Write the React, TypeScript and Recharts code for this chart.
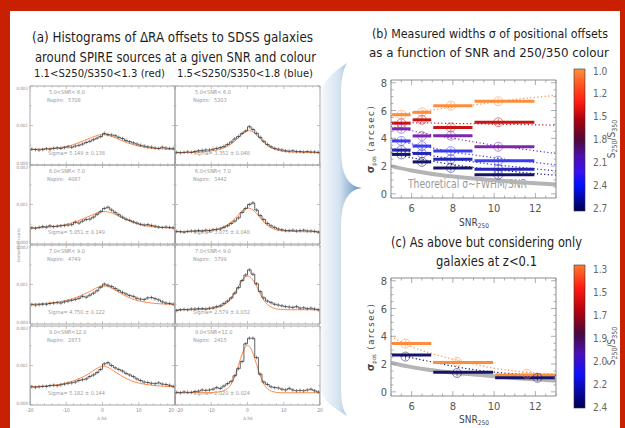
import React from 'react';
import { ComposedChart, Line, Scatter, XAxis, YAxis, ReferenceLine } from 'recharts';

const SANS = '"Liberation Sans Narrow","Arial Narrow","DejaVu Sans Condensed","Liberation Sans",sans-serif';

// ---------------- Panel (a) data ----------------
const binLefts = [-20, -19, -18, -17, -16, -15, -14, -13, -12, -11, -10, -9, -8, -7, -6, -5, -4, -3, -2, -1, 0, 1, 2, 3, 4, 5, 6, 7, 8, 9, 10, 11, 12, 13, 14, 15, 16, 17, 18, 19];
const modelX = [-20, -16, -12, -9, -7, -5, -4, -3, -2, -1, 0, 1, 2, 3, 4, 5, 7, 9, 12, 16, 20];
const histXTicks = [-20, -18, -16, -14, -12, -10, -8, -6, -4, -2, 0, 2, 4, 6, 8, 10, 12, 14, 16, 18, 20];
const histXMajor = [-20, -10, 0, 10, 20];
const histYTicks = [0, 0.5, 1, 1.5, 2];
const histYMajor = [0, 1, 2];

const snrLabels = ['5.0<SNR< 6.0', '6.0<SNR< 7.0', '7.0<SNR< 9.0', '9.0<SNR<12.0'];
const nspireRed = ['5708', '4087', '4749', '2873'];
const nspireBlue = ['5203', '3442', '3799', '2415'];
const sigmaRed = ['5.149 \u00b1  0.138', '5.051 \u00b1  0.149', '4.750 \u00b1  0.122', '5.182 \u00b1  0.144'];
const sigmaBlue = ['3.352 \u00b1  0.048', '3.075 \u00b1  0.048', '2.579 \u00b1  0.032', '2.020 \u00b1  0.024'];

const histRed1 = [0.40, 0.39, 0.38, 0.39, 0.41, 0.40, 0.42, 0.43, 0.42, 0.44, 0.46, 0.45, 0.48, 0.50, 0.53, 0.57, 0.60, 0.64, 0.68, 0.72, 0.80, 0.77, 0.76, 0.74, 0.70, 0.67, 0.62, 0.59, 0.56, 0.53, 0.50, 0.48, 0.46, 0.45, 0.43, 0.42, 0.45, 0.43, 0.42, 0.42];
const histRed2 = [0.41, 0.40, 0.42, 0.44, 0.43, 0.46, 0.44, 0.45, 0.46, 0.47, 0.48, 0.49, 0.55, 0.53, 0.58, 0.62, 0.63, 0.68, 0.75, 0.82, 0.90, 0.93, 0.86, 0.80, 0.74, 0.68, 0.63, 0.60, 0.56, 0.53, 0.50, 0.48, 0.49, 0.47, 0.45, 0.43, 0.42, 0.43, 0.42, 0.41];
const histRed3 = [0.49, 0.48, 0.49, 0.50, 0.50, 0.52, 0.53, 0.54, 0.53, 0.56, 0.58, 0.60, 0.62, 0.65, 0.70, 0.68, 0.73, 0.78, 0.84, 0.93, 1.01, 0.98, 0.95, 0.90, 0.85, 0.80, 0.76, 0.72, 0.70, 0.65, 0.63, 0.62, 0.66, 0.67, 0.64, 0.61, 0.56, 0.53, 0.52, 0.50];
const histRed4 = [0.46, 0.45, 0.46, 0.47, 0.47, 0.49, 0.50, 0.49, 0.51, 0.53, 0.55, 0.56, 0.58, 0.62, 0.64, 0.66, 0.72, 0.76, 0.82, 0.90, 1.04, 1.07, 1.00, 0.94, 0.90, 0.86, 0.80, 0.76, 0.72, 0.66, 0.62, 0.58, 0.57, 0.55, 0.54, 0.56, 0.53, 0.52, 0.50, 0.47];
const modelRed1 = [0.39, 0.41, 0.44, 0.49, 0.55, 0.62, 0.66, 0.70, 0.73, 0.76, 0.77, 0.76, 0.74, 0.71, 0.67, 0.63, 0.56, 0.50, 0.44, 0.41, 0.39];
const modelRed2 = [0.40, 0.42, 0.46, 0.52, 0.58, 0.65, 0.69, 0.73, 0.77, 0.80, 0.82, 0.82, 0.80, 0.77, 0.73, 0.68, 0.60, 0.53, 0.46, 0.42, 0.40];
const modelRed3 = [0.50, 0.52, 0.56, 0.62, 0.68, 0.76, 0.80, 0.85, 0.90, 0.94, 0.96, 0.96, 0.93, 0.88, 0.83, 0.78, 0.68, 0.61, 0.55, 0.51, 0.50];
const modelRed4 = [0.46, 0.48, 0.52, 0.58, 0.65, 0.73, 0.78, 0.84, 0.90, 0.95, 0.98, 0.97, 0.93, 0.87, 0.81, 0.75, 0.65, 0.58, 0.52, 0.48, 0.46];

const histBlue1 = [0.32, 0.31, 0.32, 0.33, 0.32, 0.34, 0.36, 0.37, 0.38, 0.38, 0.40, 0.42, 0.44, 0.47, 0.52, 0.58, 0.66, 0.72, 0.80, 0.86, 0.97, 0.90, 0.80, 0.70, 0.60, 0.52, 0.46, 0.42, 0.40, 0.38, 0.36, 0.35, 0.36, 0.34, 0.34, 0.33, 0.34, 0.33, 0.33, 0.32];
const histBlue2 = [0.32, 0.31, 0.30, 0.32, 0.33, 0.33, 0.34, 0.33, 0.35, 0.34, 0.36, 0.37, 0.38, 0.42, 0.46, 0.52, 0.58, 0.66, 0.80, 0.90, 1.00, 1.04, 0.86, 0.72, 0.62, 0.52, 0.46, 0.42, 0.38, 0.36, 0.34, 0.34, 0.35, 0.33, 0.34, 0.35, 0.33, 0.33, 0.32, 0.30];
const histBlue3 = [0.34, 0.36, 0.37, 0.36, 0.38, 0.38, 0.39, 0.39, 0.38, 0.40, 0.41, 0.44, 0.46, 0.52, 0.58, 0.66, 0.78, 0.92, 1.10, 1.24, 1.37, 1.26, 1.02, 0.82, 0.66, 0.58, 0.54, 0.50, 0.48, 0.46, 0.44, 0.43, 0.42, 0.44, 0.40, 0.41, 0.39, 0.40, 0.38, 0.36];
const histBlue4 = [0.32, 0.31, 0.33, 0.32, 0.32, 0.34, 0.35, 0.38, 0.37, 0.38, 0.40, 0.44, 0.42, 0.48, 0.54, 0.60, 0.74, 0.92, 1.10, 1.55, 1.69, 1.69, 1.20, 0.78, 0.58, 0.52, 0.46, 0.44, 0.43, 0.40, 0.38, 0.42, 0.38, 0.36, 0.37, 0.36, 0.38, 0.40, 0.36, 0.33];
const modelBlue1 = [0.31, 0.32, 0.34, 0.37, 0.42, 0.50, 0.57, 0.65, 0.74, 0.82, 0.87, 0.86, 0.80, 0.71, 0.62, 0.53, 0.42, 0.36, 0.33, 0.32, 0.31];
const modelBlue2 = [0.31, 0.31, 0.33, 0.36, 0.42, 0.52, 0.60, 0.69, 0.79, 0.87, 0.91, 0.89, 0.82, 0.72, 0.61, 0.51, 0.39, 0.34, 0.32, 0.31, 0.31];
const modelBlue3 = [0.36, 0.36, 0.37, 0.40, 0.46, 0.60, 0.72, 0.87, 1.03, 1.16, 1.21, 1.17, 1.04, 0.86, 0.68, 0.54, 0.41, 0.37, 0.36, 0.36, 0.36];
const modelBlue4 = [0.31, 0.31, 0.31, 0.32, 0.35, 0.46, 0.62, 0.86, 1.15, 1.40, 1.51, 1.42, 1.17, 0.88, 0.63, 0.46, 0.34, 0.31, 0.31, 0.31, 0.31];

// ---------------- Panel (b) data ----------------
const snrEdgesB = [5, 6, 7, 9, 12];
const circleSnrB = [5.5, 6.5, 7.9, 10.2];
const fitSnr = [5, 6, 7, 8, 9, 10, 11, 12, 13];
const sigOrangeB = [5.70, 5.87, 6.35, 6.67];
const sigRedB = [5.09, 5.33, 4.78, 5.16];
const sigPurpleB = [4.68, 4.17, 4.19, 3.39];
const sigBlueB = [3.81, 3.44, 3.08, 2.38];
const sigBlue2B = [3.15, 2.91, 2.50, 1.77];
const sigNavyB = [2.84, 2.30, 1.87, 1.38];
const fitOrangeB = [5.6, 5.85, 6.05, 6.25, 6.4, 6.6, 6.8, 6.95, 7.1];
const fitRedB = [5.15, 5.12, 5.1, 5.07, 5.05, 5.02, 5.0, 4.97, 4.95];
const fitPurpleB = [4.85, 4.55, 4.25, 4.0, 3.75, 3.5, 3.3, 3.1, 2.9];
const fitBlueB = [4.0, 3.6, 3.3, 3.0, 2.8, 2.6, 2.4, 2.25, 2.1];
const fitBlue2B = [3.3, 3.0, 2.75, 2.5, 2.3, 2.1, 1.95, 1.8, 1.65];
const fitNavyB = [2.95, 2.6, 2.35, 2.1, 1.9, 1.75, 1.6, 1.45, 1.35];
const theoryB = [2.0, 1.68, 1.43, 1.25, 1.1, 0.98, 0.86, 0.76, 0.68];
const cbLabelsB = ['1.0', '1.2', '1.5', '1.8', '2.1', '2.4', '2.7'];

// ---------------- Panel (c) data ----------------
const snrEdgesC = [5, 7, 10, 13];
const sigOrangeC = [3.48, 2.12, 1.22];
const sigNavyC = [2.66, 1.41, 1.01];
const circleSnrOrangeC = [5.7, 8.2, 11.6];
const circleSigOrangeC = [3.48, 2.16, 1.30];
const circleSnrNavyC = [5.7, 8.2, 12.1];
const circleSigNavyC = [2.54, 1.36, 1.01];
const fitOrangeC = [4.0, 3.25, 2.75, 2.35, 2.0, 1.7, 1.5, 1.35, 1.25];
const fitNavyC = [2.75, 2.45, 2.15, 1.85, 1.6, 1.42, 1.3, 1.22, 1.17];
const theoryC = [2.1, 1.78, 1.55, 1.38, 1.25, 1.13, 1.0, 0.9, 0.8];
const cbLabelsC = ['1.3', '1.5', '1.7', '1.9', '2.0', '2.2', '2.4'];

const snrTicks = [5, 5.5, 6, 6.5, 7, 7.5, 8, 8.5, 9, 9.5, 10, 10.5, 11, 11.5, 12, 12.5, 13];
const snrMajor = [6, 8, 10, 12];
const sigTicks = [0, 0.5, 1, 1.5, 2, 2.5, 3, 3.5, 4, 4.5, 5, 5.5, 6, 6.5, 7, 7.5, 8];
const sigMajor = [0, 2, 4, 6, 8];

const C_ORANGE = '#ff8c3c';
const C_RED = '#c81414';
const C_PURPLE = '#7a28b0';
const C_BLUE = '#3c3cf0';
const C_BLUE2 = '#2424b8';
const C_NAVY = '#141468';

type Side = 'bottom' | 'top' | 'left' | 'right';

const tickFn = (
  side: Side,
  majors: number[],
  majorLen: number,
  minorLen: number,
  color: string,
  fmt: ((v: number) => string) | null,
  fontSize: number,
  textFill: string,
  gap: number,
  nudge?: (v: number) => number,
  anchorOf?: (v: number) => 'start' | 'middle' | 'end'
) => (props: any) => {
  const x = Number(props.x);
  const y = Number(props.y);
  const v = props.payload ? props.payload.value : 0;
  const isMajor = majors.some((m) => Math.abs(m - v) < 1e-6);
  const len = isMajor ? majorLen : minorLen;
  const d = nudge ? nudge(v) : 0;
  let x2 = x;
  let y2 = y;
  if (side === 'bottom') y2 = y - len;
  else if (side === 'top') y2 = y + len;
  else if (side === 'left') x2 = x + len;
  else x2 = x - len;
  let label = null;
  if (isMajor && fmt) {
    if (side === 'bottom')
      label = (
        <text
          x={x + d}
          y={y + gap + fontSize * 0.75}
          textAnchor={anchorOf ? anchorOf(v) : 'middle'}
          fontSize={fontSize}
          fill={textFill}
          fontFamily={SANS}
        >
          {fmt(v)}
        </text>
      );
    else if (side === 'left')
      label = (
        <text x={x - gap} y={y + fontSize * 0.36 + d} textAnchor="end" fontSize={fontSize} fill={textFill} fontFamily={SANS}>
          {fmt(v)}
        </text>
      );
  }
  return (
    <g>
      <line x1={x} y1={y} x2={x2} y2={y2} stroke={color} strokeWidth={0.7} />
      {label}
    </g>
  );
};

const errShape = (p: any) => (
  <line x1={p.cx} x2={p.cx} y1={p.cy - 1.8} y2={p.cy + 1.8} stroke="#3a3a3a" strokeWidth={0.6} />
);

const circleShape = (color: string) => (p: any) => (
  <g opacity={0.75}>
    <circle cx={p.cx} cy={p.cy} r={4.5} fill="none" stroke={color} strokeWidth={0.7} />
    <line x1={p.cx} x2={p.cx} y1={p.cy - 3.5} y2={p.cy + 3.5} stroke={color} strokeWidth={0.7} />
  </g>
);

const histYNudge = (v: number) => (v === 0 ? -1.6 : v === 2 ? 2.2 : 0);
const histXNudgeLeftCol = (v: number) => (v === 20 ? -0.8 : 0);
const histXNudgeRightCol = (v: number) => (v === -20 ? 0.8 : 0);
const histXAnchorLeftCol = (v: number): 'start' | 'middle' | 'end' => (v === 20 ? 'end' : 'middle');
const histXAnchorRightCol = (v: number): 'start' | 'middle' | 'end' => (v === -20 ? 'start' : 'middle');

function HistPanel(props: {
  left: number;
  top: number;
  hist: number[];
  model: number[];
  yLabels: boolean;
  xLabels: boolean;
}) {
  const { left, top, hist, model, yLabels, xLabels } = props;
  const W = 145;
  const H = 79;
  const M = 4;
  const lw = yLabels ? 22 : 1;
  const bh = xLabels ? 12 : 1;
  const frame = '#a8a8a8';
  const stepData = [{ x: -20, h: 0 }, ...binLefts.map((b, i) => ({ x: b, h: hist[i] })), { x: 20, h: 0 }];
  const errData = binLefts.map((b, i) => ({ x: b + 0.5, h: hist[i] }));
  const modelData = modelX.map((x, i) => ({ x, m: model[i] }));
  return (
    <div style={{ position: 'absolute', left: left - lw - M, top: top - 1 - M }}>
      <ComposedChart width={M + lw + W + 1 + M} height={M + 1 + H + bh + M} margin={{ top: M, right: M, bottom: M, left: M }}>
        <XAxis
          xAxisId="b"
          type="number"
          dataKey="x"
          domain={[-20, 20]}
          ticks={histXTicks}
          interval={0}
          allowDataOverflow
          height={bh}
          tickSize={0}
          tickMargin={0}
          tickLine={false}
          stroke={frame}
          tick={tickFn(
            'bottom',
            histXMajor,
            3,
            1.5,
            frame,
            xLabels ? (v) => String(v) : null,
            5,
            '#8a8a8a',
            3,
            yLabels ? histXNudgeLeftCol : histXNudgeRightCol,
            yLabels ? histXAnchorLeftCol : histXAnchorRightCol
          )}
        />
        <XAxis
          xAxisId="t"
          orientation="top"
          type="number"
          dataKey="x"
          domain={[-20, 20]}
          ticks={histXTicks}
          interval={0}
          allowDataOverflow
          height={1}
          tickSize={0}
          tickMargin={0}
          tickLine={false}
          stroke={frame}
          tick={tickFn('top', histXMajor, 3, 1.5, frame, null, 5, '#8a8a8a', 3)}
        />
        <YAxis
          yAxisId="l"
          type="number"
          domain={[0, 2]}
          ticks={histYTicks}
          interval={0}
          allowDataOverflow
          width={lw}
          tickSize={0}
          tickMargin={0}
          tickLine={false}
          stroke={frame}
          tick={tickFn('left', histYMajor, 3, 1.5, frame, yLabels ? (v) => (v / 1000).toFixed(3) : null, 4.5, '#8a8a8a', 2, histYNudge)}
        />
        <YAxis
          yAxisId="r"
          orientation="right"
          type="number"
          domain={[0, 2]}
          ticks={histYTicks}
          interval={0}
          allowDataOverflow
          width={1}
          tickSize={0}
          tickMargin={0}
          tickLine={false}
          stroke={frame}
          tick={tickFn('right', histYMajor, 3, 1.5, frame, null, 5, '#8a8a8a', 3)}
        />
        <Line xAxisId="b" yAxisId="l" data={modelData} dataKey="m" type="monotone" stroke="#ff8a4c" strokeWidth={1} dot={false} isAnimationActive={false} />
        <Line xAxisId="b" yAxisId="l" data={stepData} dataKey="h" type="stepAfter" stroke="#3a3a3a" strokeWidth={0.8} dot={false} isAnimationActive={false} />
        <Scatter xAxisId="b" yAxisId="l" data={errData} dataKey="h" shape={errShape} isAnimationActive={false} />
      </ComposedChart>
    </div>
  );
}

type SigSeries = { color: string; bars: number[]; fit: number[]; cx: number[]; cy: number[] };

function SigmaPanel(props: { top: number; edges: number[]; series: SigSeries[]; theory: number[] }) {
  const { top, edges, series, theory } = props;
  const frame = '#8c8c8c';
  const MT = 7;
  return (
    <div style={{ position: 'absolute', left: 361, top: top - 1 - MT }}>
      <ComposedChart width={200} height={137 + MT} margin={{ top: MT, right: 4, bottom: 0, left: 0 }}>
        <XAxis
          xAxisId="b"
          type="number"
          dataKey="x"
          domain={[5, 13]}
          ticks={snrTicks}
          interval={0}
          allowDataOverflow
          height={18}
          tickSize={0}
          tickMargin={0}
          tickLine={false}
          stroke={frame}
          tick={tickFn('bottom', snrMajor, 5, 2.5, frame, (v) => String(v), 11, '#555', 6)}
        />
        <XAxis
          xAxisId="t"
          orientation="top"
          type="number"
          dataKey="x"
          domain={[5, 13]}
          ticks={snrTicks}
          interval={0}
          allowDataOverflow
          height={1}
          tickSize={0}
          tickMargin={0}
          tickLine={false}
          stroke={frame}
          tick={tickFn('top', snrMajor, 5, 2.5, frame, null, 11, '#555', 6)}
        />
        <YAxis
          yAxisId="l"
          type="number"
          domain={[-0.3, 8.2]}
          ticks={sigTicks}
          interval={0}
          allowDataOverflow
          width={30}
          tickSize={0}
          tickMargin={0}
          tickLine={false}
          stroke={frame}
          tick={tickFn('left', sigMajor, 5, 2.5, frame, (v) => String(v), 11, '#555', 4)}
        />
        <YAxis
          yAxisId="r"
          orientation="right"
          type="number"
          domain={[-0.3, 8.2]}
          ticks={sigTicks}
          interval={0}
          allowDataOverflow
          width={1}
          tickSize={0}
          tickMargin={0}
          tickLine={false}
          stroke={frame}
          tick={tickFn('right', sigMajor, 5, 2.5, frame, null, 11, '#555', 4)}
        />
        <Line
          xAxisId="b"
          yAxisId="l"
          data={fitSnr.map((x, i) => ({ x, v: theory[i] }))}
          dataKey="v"
          type="monotone"
          stroke="#b4b4b4"
          strokeWidth={4}
          dot={false}
          isAnimationActive={false}
        />
        {series.map((s, k) => (
          <Line
            key={'fit' + k}
            xAxisId="b"
            yAxisId="l"
            data={fitSnr.map((x, i) => ({ x, v: s.fit[i] }))}
            dataKey="v"
            type="monotone"
            stroke={s.color}
            strokeWidth={1.2}
            strokeDasharray="1.2 2.4"
            dot={false}
            isAnimationActive={false}
          />
        ))}
        {series.map((s, k) =>
          s.bars.map((b, i) => (
            <ReferenceLine
              key={'bar' + k + '_' + i}
              xAxisId="b"
              yAxisId="l"
              segment={[
                { x: edges[i] + 0.05, y: b },
                { x: edges[i + 1] - 0.05, y: b },
              ]}
              stroke={s.color}
              strokeWidth={3}
              ifOverflow="visible"
            />
          ))
        )}
        {series.map((s, k) => (
          <Scatter
            key={'c' + k}
            xAxisId="b"
            yAxisId="l"
            data={s.cx.map((x, i) => ({ x, v: s.cy[i] }))}
            dataKey="v"
            shape={circleShape(s.color)}
            isAnimationActive={false}
          />
        ))}
      </ComposedChart>
    </div>
  );
}

const seriesB: SigSeries[] = [
  { color: C_ORANGE, bars: sigOrangeB, fit: fitOrangeB, cx: circleSnrB, cy: sigOrangeB },
  { color: C_RED, bars: sigRedB, fit: fitRedB, cx: circleSnrB, cy: sigRedB },
  { color: C_PURPLE, bars: sigPurpleB, fit: fitPurpleB, cx: circleSnrB, cy: sigPurpleB },
  { color: C_BLUE, bars: sigBlueB, fit: fitBlueB, cx: circleSnrB, cy: sigBlueB },
  { color: C_BLUE2, bars: sigBlue2B, fit: fitBlue2B, cx: circleSnrB, cy: sigBlue2B },
  { color: C_NAVY, bars: sigNavyB, fit: fitNavyB, cx: circleSnrB, cy: sigNavyB },
];

const seriesC: SigSeries[] = [
  { color: C_ORANGE, bars: sigOrangeC, fit: fitOrangeC, cx: circleSnrOrangeC, cy: circleSigOrangeC },
  { color: C_NAVY, bars: sigNavyC, fit: fitNavyC, cx: circleSnrNavyC, cy: circleSigNavyC },
];

const rowTops = [86, 165, 245, 326];
const colLefts = [30, 175];
const redHists = [histRed1, histRed2, histRed3, histRed4];
const redModels = [modelRed1, modelRed2, modelRed3, modelRed4];
const blueHists = [histBlue1, histBlue2, histBlue3, histBlue4];
const blueModels = [modelBlue1, modelBlue2, modelBlue3, modelBlue4];

function Colorbar(props: { x: number; y: number; h: number; labels: string[]; grad: string; ly0: number; ly1: number; titleY: number }) {
  const { x, y, h, labels, grad, ly0, ly1, titleY } = props;
  const step = (ly1 - ly0) / (labels.length - 1);
  return (
    <g>
      <rect x={x} y={y} width={11} height={h} fill={`url(#${grad})`} stroke="#333" strokeWidth={0.6} />
      {labels.map((l, i) => (
        <text key={l + i} x={x + 19} y={ly0 + i * step + 3.5} fontSize={10} fill="#666" fontFamily={SANS}>
          {l}
        </text>
      ))}
      <text transform={`rotate(-90 ${x + 41} ${titleY})`} x={x + 41} y={titleY} fontSize={10} fill="#555" fontFamily={SANS} textAnchor="middle">
        S<tspan fontSize={7} dy={2}>250</tspan>
        <tspan dy={-2}>/S</tspan>
        <tspan fontSize={7} dy={2}>350</tspan>
      </text>
    </g>
  );
}

function YLabel(props: { x: number; y: number }) {
  const { x, y } = props;
  return (
    <text transform={`rotate(-90 ${x} ${y})`} x={x} y={y} textAnchor="middle" fontSize={10} fill="#444" fontFamily={SANS}>
      <tspan fontWeight="bold" fontSize={11}>σ</tspan>
      <tspan fontSize={6} dy={2}>pos</tspan>
      <tspan dy={-2} letterSpacing={1.6} fontSize={9.5}>{'  (arcsec)'}</tspan>
    </text>
  );
}

function XLabel(props: { x: number; y: number }) {
  const { x, y } = props;
  return (
    <text x={x} y={y} textAnchor="middle" fontSize={10} fill="#444" fontFamily={SANS}>
      SNR<tspan fontSize={6.5} dy={2}>250</tspan>
    </text>
  );
}

export default function App() {
  const textCol = '#1e1e1e';
  const smallGrey = '#9a9a9a';
  return (
    <div style={{ position: 'absolute', left: 0, top: 0, width: 625, height: 428, background: '#fff', overflow: 'hidden', fontFamily: SANS }}>
      <svg width={625} height={428} style={{ position: 'absolute', left: 0, top: 0 }}>
        <defs>
          <linearGradient id="arrowGrad" x1={321} x2={362} y1={0} y2={0} gradientUnits="userSpaceOnUse">
            <stop offset="0" stopColor="#f6f9fc" />
            <stop offset="0.45" stopColor="#d4e2f0" />
            <stop offset="1" stopColor="#5a8cc0" />
          </linearGradient>
          <linearGradient id="cbB" x1={0} x2={0} y1={0} y2={1}>
            <stop offset="0" stopColor="#ff9040" />
            <stop offset="0.12" stopColor="#ff5020" />
            <stop offset="0.24" stopColor="#ff1a10" />
            <stop offset="0.36" stopColor="#a80010" />
            <stop offset="0.5" stopColor="#50083a" />
            <stop offset="0.62" stopColor="#4a10b0" />
            <stop offset="0.72" stopColor="#3a10f0" />
            <stop offset="0.82" stopColor="#0010ff" />
            <stop offset="1" stopColor="#000050" />
          </linearGradient>
          <linearGradient id="cbC" x1={0} x2={0} y1={0} y2={1}>
            <stop offset="0" stopColor="#ff7a30" />
            <stop offset="0.16" stopColor="#ff1a10" />
            <stop offset="0.33" stopColor="#b00010" />
            <stop offset="0.48" stopColor="#48083e" />
            <stop offset="0.62" stopColor="#4a10b8" />
            <stop offset="0.76" stopColor="#1010ff" />
            <stop offset="1" stopColor="#000050" />
          </linearGradient>
        </defs>

        {/* frame */}
        <rect x={0} y={0} width={625} height={11} fill="#c82000" />
        <rect x={0} y={0} width={10} height={428} fill="#c82000" />
        <rect x={620} y={0} width={5} height={428} fill="#c82000" />

        {/* arrow / brace */}
        <path
          d="M 321 95 C 321 84 330 74 347 63 C 342 72 341 82 341 96 L 341 150 Q 341 186 362 188 Q 341 190 341 226 L 341 388 C 341 400 342 408 347 416 C 330 406 321 398 321 388 Z"
          fill="url(#arrowGrad)"
        />

        {/* titles */}
        <text x={32} y={42} fontSize={14} fill={textCol} textLength={281} lengthAdjust="spacingAndGlyphs" fontFamily={SANS}>
          (a) Histograms of ΔRA offsets to SDSS galaxies
        </text>
        <text x={35} y={62} fontSize={14} fill={textCol} textLength={281} lengthAdjust="spacingAndGlyphs" fontFamily={SANS}>
          around SPIRE sources at a given SNR and colour
        </text>
        <text x={34} y={77} fontSize={10.5} fill={textCol} textLength={131} lengthAdjust="spacingAndGlyphs" fontFamily={SANS}>
          1.1&lt;S250/S350&lt;1.3 (red)
        </text>
        <text x={177} y={77} fontSize={10.5} fill={textCol} textLength={136} lengthAdjust="spacingAndGlyphs" fontFamily={SANS}>
          1.5&lt;S250/S350&lt;1.8 (blue)
        </text>
        <text x={372} y={38} fontSize={13} fill={textCol} textLength={236} lengthAdjust="spacingAndGlyphs" fontFamily={SANS}>
          (b) Measured widths σ of positional offsets
        </text>
        <text x={369} y={57} fontSize={13} fill={textCol} textLength={240} lengthAdjust="spacingAndGlyphs" fontFamily={SANS}>
          as a function of SNR and 250/350 colour
        </text>
        <text x={391} y={247} fontSize={13.5} fill={textCol} textLength={191} lengthAdjust="spacingAndGlyphs" fontFamily={SANS}>
          (c) As above but considering only
        </text>
        <text x={436} y={266} fontSize={13.5} fill={textCol} textLength={101} lengthAdjust="spacingAndGlyphs" fontFamily={SANS}>
          galaxies at z&lt;0.1
        </text>

        {/* histogram annotations */}
        {rowTops.map((t, r) => (
          <g key={'ann' + r} fontFamily={SANS} fontSize={5.5} fill={smallGrey}>
            <text x={colLefts[0] + 19} y={t + 8}>{snrLabels[r]}</text>
            <text x={colLefts[0] + 17} y={t + 16}>Nspire:</text>
            <text x={colLefts[0] + 38} y={t + 16}>{nspireRed[r]}</text>
            <text x={colLefts[0] + 18} y={t + 69}>{'Sigma= ' + sigmaRed[r]}</text>
            <text x={colLefts[1] + 20} y={t + 8}>{snrLabels[r]}</text>
            <text x={colLefts[1] + 18} y={t + 16}>Nspire:</text>
            <text x={colLefts[1] + 39} y={t + 16}>{nspireBlue[r]}</text>
            <text x={colLefts[1] + 18} y={t + 69}>{'Sigma= ' + sigmaBlue[r]}</text>
          </g>
        ))}
        <text x={102} y={420} fontSize={4.5} fill={smallGrey} textAnchor="middle" fontFamily={SANS}>Δ RA</text>
        <text x={248} y={420} fontSize={4.5} fill={smallGrey} textAnchor="middle" fontFamily={SANS}>Δ RA</text>
        <text transform="rotate(-90 20 245)" x={20} y={245} fontSize={4} fill={smallGrey} textAnchor="middle" fontFamily={SANS}>
          Normalised counts
        </text>

        {/* panel b/c decorations */}
        <text x={408} y={188} fontSize={13} fill="#9a9a9a" textLength={119} lengthAdjust="spacingAndGlyphs" fontFamily={SANS}>
          Theoretical σ~FWHM/SNR
        </text>
        <YLabel x={374} y={139} />
        <YLabel x={374} y={337} />
        <XLabel x={474} y={226} />
        <XLabel x={474} y={423} />
        <Colorbar x={574} y={69} h={142} labels={cbLabelsB} grad="cbB" ly0={71} ly1={208} titleY={139} />
        <Colorbar x={574} y={265} h={143} labels={cbLabelsC} grad="cbC" ly0={269} ly1={407} titleY={346} />
      </svg>

      {rowTops.map((t, r) => (
        <HistPanel key={'l' + r} left={colLefts[0]} top={t} hist={redHists[r]} model={redModels[r]} yLabels={true} xLabels={r === 3} />
      ))}
      {rowTops.map((t, r) => (
        <HistPanel key={'r' + r} left={colLefts[1]} top={t} hist={blueHists[r]} model={blueModels[r]} yLabels={false} xLabels={r === 3} />
      ))}

      <SigmaPanel top={80} edges={snrEdgesB} series={seriesB} theory={theoryB} />
      <SigmaPanel top={278} edges={snrEdgesC} series={seriesC} theory={theoryC} />
    </div>
  );
}
